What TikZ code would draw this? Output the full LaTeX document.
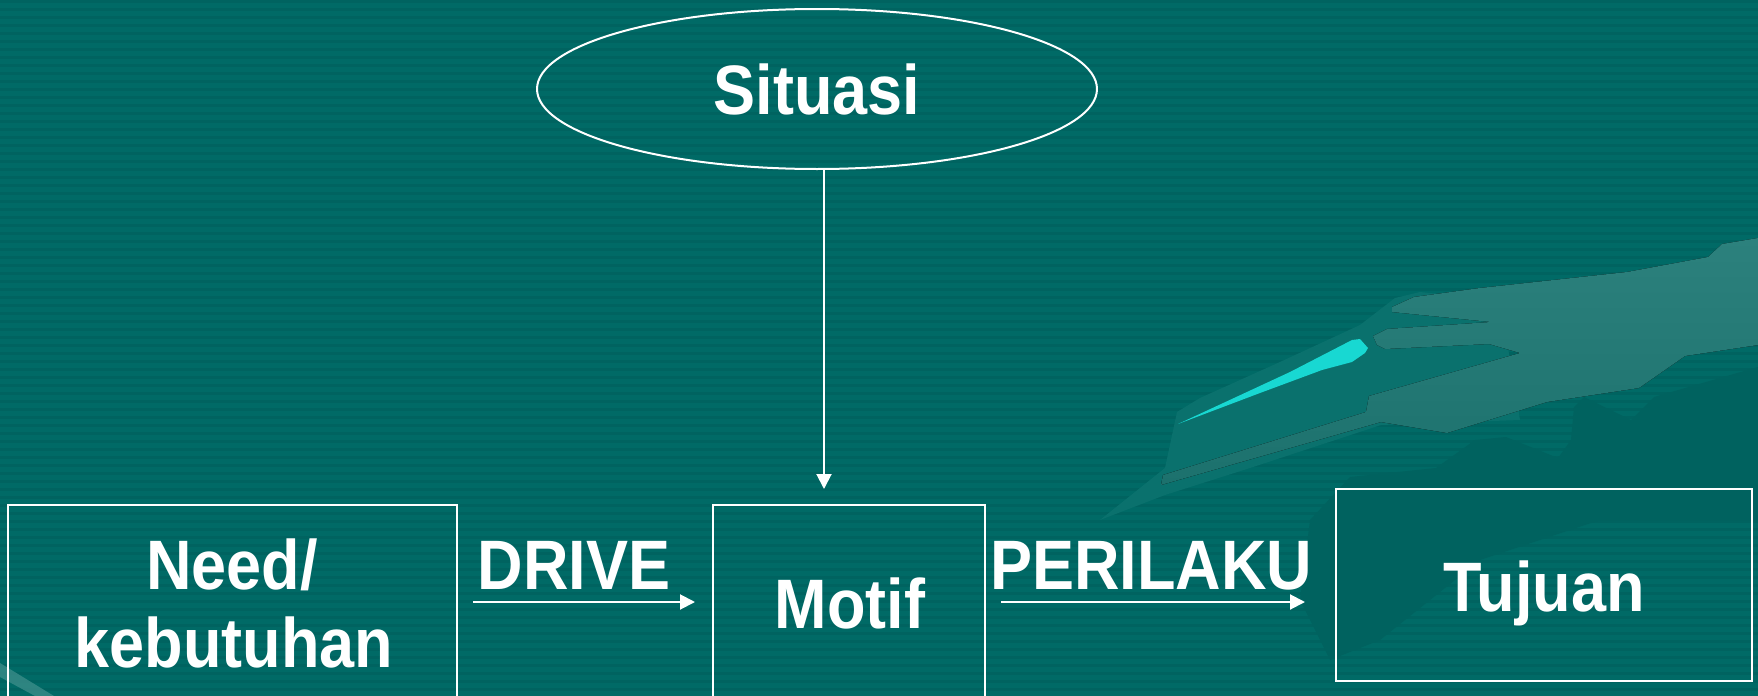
\documentclass[tikz,border=0pt]{standalone}
\usepackage{fontspec}
\setmainfont{Liberation Sans}
\newfontfamily\labelfont[FakeStretch=0.9]{Liberation Sans}
\usetikzlibrary{shapes.geometric,arrows.meta}

\definecolor{bg}{RGB}{0,106,102}
\definecolor{stripe}{RGB}{0,99,96}
\definecolor{darkpatch}{RGB}{0,98,95}
\definecolor{midpatch}{RGB}{10,113,109}
\definecolor{lighttop}{RGB}{44,129,125}
\definecolor{lightbot}{RGB}{28,113,109}
\definecolor{streak}{RGB}{24,216,210}
\definecolor{band}{RGB}{58,140,136}

\begin{document}
\begin{tikzpicture}[x=0.5pt,y=-0.5pt,
  txt/.style={font=\labelfont\fontsize{35}{39}\selectfont\bfseries, text=white, inner sep=0pt, anchor=base},
  boxnode/.style={draw=white, line width=1pt, rectangle, inner sep=0pt},
  oval/.style={draw=white, line width=1pt, ellipse, inner sep=0pt,
    minimum width=280pt, minimum height=80pt,
    font=\labelfont\fontsize{35}{39}\selectfont\bfseries, text=white},
  arr/.style={white, line width=1pt, -{Triangle[length=7.5pt,width=7.5pt]}}
]
\useasboundingbox (0,0) rectangle (1758,696);

% background with faint horizontal stripes
\fill[bg] (0,0) rectangle (1758,696);
\foreach \k in {0,...,87}
  \fill[stripe] (0,\k*8) rectangle (1758,\k*8+3);

% dark lower patch on the right
\fill[darkpatch] (1350,477) -- (1436,468) -- (1475,440) -- (1506,437)
  -- (1558,458) -- (1571,440) -- (1574,407) -- (1584,397) -- (1631,420)
  -- (1654,397) -- (1758,367) -- (1758,520) -- (1600,520) -- (1480,560)
  -- (1380,640) -- (1330,660) -- (1300,600) -- (1310,520) -- cycle;

% faint arm behind the hand
\fill[midpatch] (1100,520) -- (1140,488) -- (1165,468) -- (1177,412)
  -- (1200,398) -- (1280,362) -- (1360,325) -- (1395,298) -- (1420,292)
  -- (1500,300) -- (1520,420) -- (1381,425) -- (1250,468) -- (1165,495)
  -- cycle;

% light hand shape
\fill[top color=lighttop, bottom color=lightbot]
  (1758,238) -- (1722,244) -- (1708,257) -- (1627,272) -- (1480,288)
  -- (1414,297) -- (1392,307) -- (1392,312) -- (1491,322) -- (1387,329)
  -- (1373,336) -- (1377,345) -- (1385,349) -- (1489,344) -- (1520,353)
  -- (1369,396) -- (1366,412) -- (1163,475) -- (1161,485) -- (1381,422)
  -- (1447,433) -- (1547,402) -- (1639,388) -- (1685,356) -- (1758,345)
  -- cycle;

% cyan streak
\fill[streak] (1178,424) -- (1290,372) -- (1352,340) -- (1360,339)
  -- (1368,348) -- (1365,353) -- (1352,362) -- (1322,370) -- (1260,393)
  -- cycle;

% light band in the lower left corner
\fill[band, opacity=0.8] (0,663) -- (54,696) -- (35,696) -- (0,677) -- cycle;

% nodes
\node[oval] (situasi) at (817,89) {Situasi};
\node[boxnode, minimum width=224.5pt, minimum height=120pt] (needbox) at (232.5,625) {};
\node[boxnode, minimum width=136pt, minimum height=120pt] (motifbox) at (849,625) {};
\node[boxnode, minimum width=208pt, minimum height=96pt] (tujuanbox) at (1544,585) {};

\node[txt] (need1) at (232,589) {Need/};
\node[txt] (need2) at (234,667) {kebutuhan};
\node[txt] (motif) at (850,628) {Motif};
\node[txt] (tujuan) at (1544,611) {Tujuan};
\node[txt] (drive) at (574,589) {DRIVE};
\node[txt] (perilaku) at (1151,589) {PERILAKU};

% connectors
\coordinate (arrowrow) at (0,602);
\coordinate (vline) at (824,0);
\draw[arr, shorten <=7.5pt, shorten >=8.5pt]
  (needbox.east |- arrowrow) -- (motifbox.west |- arrowrow);
\draw[arr, shorten <=7.5pt, shorten >=15pt]
  (motifbox.east |- arrowrow) -- (tujuanbox.west |- arrowrow);
\draw[arr, shorten >=7.5pt]
  (situasi.south -| vline) -- (motifbox.north -| vline);
\end{tikzpicture}
\end{document}
